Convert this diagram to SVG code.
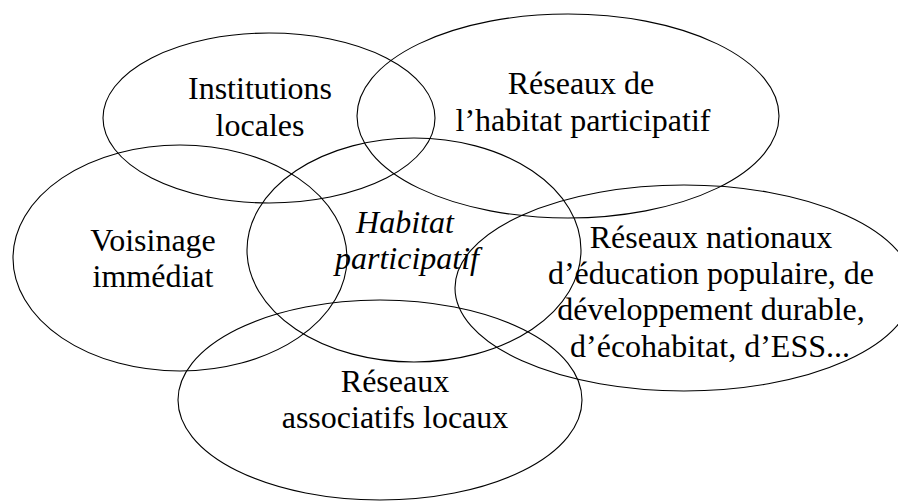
<svg xmlns="http://www.w3.org/2000/svg" width="898" height="501" viewBox="0 0 898 501">
<style>
.e{fill:none;stroke:#000;stroke-width:1.1}
text{font-family:"Liberation Serif","Times New Roman",serif;font-size:32px;fill:#000;text-anchor:middle}
.i{font-style:italic}
</style>
<rect width="898" height="501" fill="#fff"/>
<g id="institutions">
<ellipse class="e" cx="269" cy="118" rx="166" ry="85"/>
<text x="260" y="99">Institutions</text>
<text x="260" y="136">locales</text>
</g>
<g id="reseaux-habitat">
<ellipse class="e" cx="568" cy="116" rx="211" ry="102"/>
<text x="581" y="94">Réseaux de</text>
<text x="583" y="131">l’habitat participatif</text>
</g>
<g id="voisinage">
<ellipse class="e" cx="180" cy="258" rx="167" ry="113"/>
<text x="153" y="251">Voisinage</text>
<text x="153" y="287">immédiat</text>
</g>
<g id="habitat">
<ellipse class="e" cx="414" cy="250" rx="167" ry="112"/>
<text class="i" x="405" y="233">Habitat</text>
<text class="i" x="407" y="269">participatif</text>
</g>
<g id="nationaux">
<ellipse class="e" cx="684" cy="288" rx="229" ry="103"/>
<text x="711" y="248">Réseaux nationaux</text>
<text x="711" y="284">d’éducation populaire, de</text>
<text x="711" y="320">développement durable,</text>
<text x="710" y="357">d’écohabitat, d’ESS...</text>
</g>
<g id="associatifs">
<ellipse class="e" cx="380" cy="400" rx="202" ry="100"/>
<text x="395" y="392">Réseaux</text>
<text x="395" y="428">associatifs locaux</text>
</g>
<g id="connectors"></g>
</svg>
